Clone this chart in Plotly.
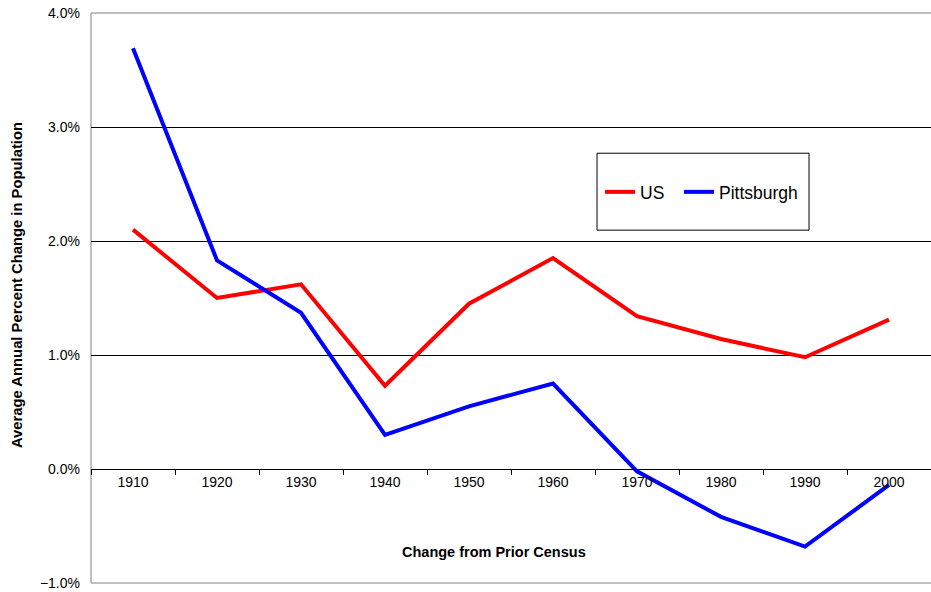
import plotly.graph_objects as go

decades = ["1910", "1920", "1930", "1940", "1950", "1960", "1970", "1980", "1990", "2000"]
us_change = [2.10, 1.50, 1.62, 0.73, 1.45, 1.85, 1.34, 1.14, 0.98, 1.31]
pittsburgh_change = [3.69, 1.83, 1.37, 0.30, 0.55, 0.75, -0.02, -0.42, -0.68, -0.14]

FONT = "Arial, Liberation Sans, sans-serif"

fig = go.Figure()
fig.add_trace(go.Scatter(x=decades, y=us_change, mode="lines", name="US",
                         line=dict(color="#FF0000", width=4), legend="legend"))
fig.add_trace(go.Scatter(x=decades, y=pittsburgh_change, mode="lines", name="Pittsburgh",
                         line=dict(color="#0000FF", width=4), legend="legend2"))

# plot-area frame (right side falls outside the picture) and legend box
fig.add_shape(type="path", xref="paper", yref="paper", path="M 1,1 L 0,1 L 0,0 L 1,0",
              line=dict(color="#808080", width=1), layer="below")
fig.add_shape(type="rect", xref="paper", yref="paper", x0=0.6024, x1=0.8548, y0=0.619, y1=0.754,
              line=dict(color="#000000", width=1), fillcolor="white", layer="below")

fig.add_annotation(text="<b>Change from Prior Census</b>", xref="paper", yref="paper",
                   x=0.48, y=0.054, xanchor="center", yanchor="middle", showarrow=False,
                   font=dict(family=FONT, size=14.5, color="#000"))
fig.add_annotation(text="<b>Average Annual Percent Change in Population</b>", xref="paper", yref="paper",
                   x=-0.088, y=0.5228, xanchor="center", yanchor="middle", textangle=-90,
                   showarrow=False, font=dict(family=FONT, size=14.8, color="#000"))

legend_style = dict(orientation="h", y=0.686, xanchor="left", yanchor="middle",
                    bgcolor="rgba(0,0,0,0)", borderwidth=0, font=dict(family=FONT, size=17.5))

fig.update_layout(
    width=931, height=592,
    margin=dict(l=91, r=0, t=13, b=9),
    paper_bgcolor="white", plot_bgcolor="white",
    font=dict(family=FONT, size=14, color="#000"),
    showlegend=True,
    legend=dict(x=0.606, **legend_style),
    legend2=dict(x=0.700, **legend_style),
    xaxis=dict(type="category", range=[-0.5, 9.5], anchor="free", position=0.2,
               showline=True, linecolor="#000", linewidth=1, showgrid=False,
               ticks="outside", tickson="boundaries", ticklen=5, tickcolor="#000",
               tickfont=dict(family=FONT, size=14), zeroline=False),
    yaxis=dict(range=[-1, 4], dtick=1, tickformat=".1f", ticksuffix="%",
               showgrid=True, gridcolor="#000", gridwidth=1, zeroline=False,
               showline=False, ticks="", ticklabelstandoff=10,
               tickfont=dict(family=FONT, size=14)),
)

# drop the default body margin so the figure fills the window exactly
fig.write_html("out.html", config={"displayModeBar": False},
               post_script="document.body.style.margin='0';document.body.style.overflow='hidden';")
